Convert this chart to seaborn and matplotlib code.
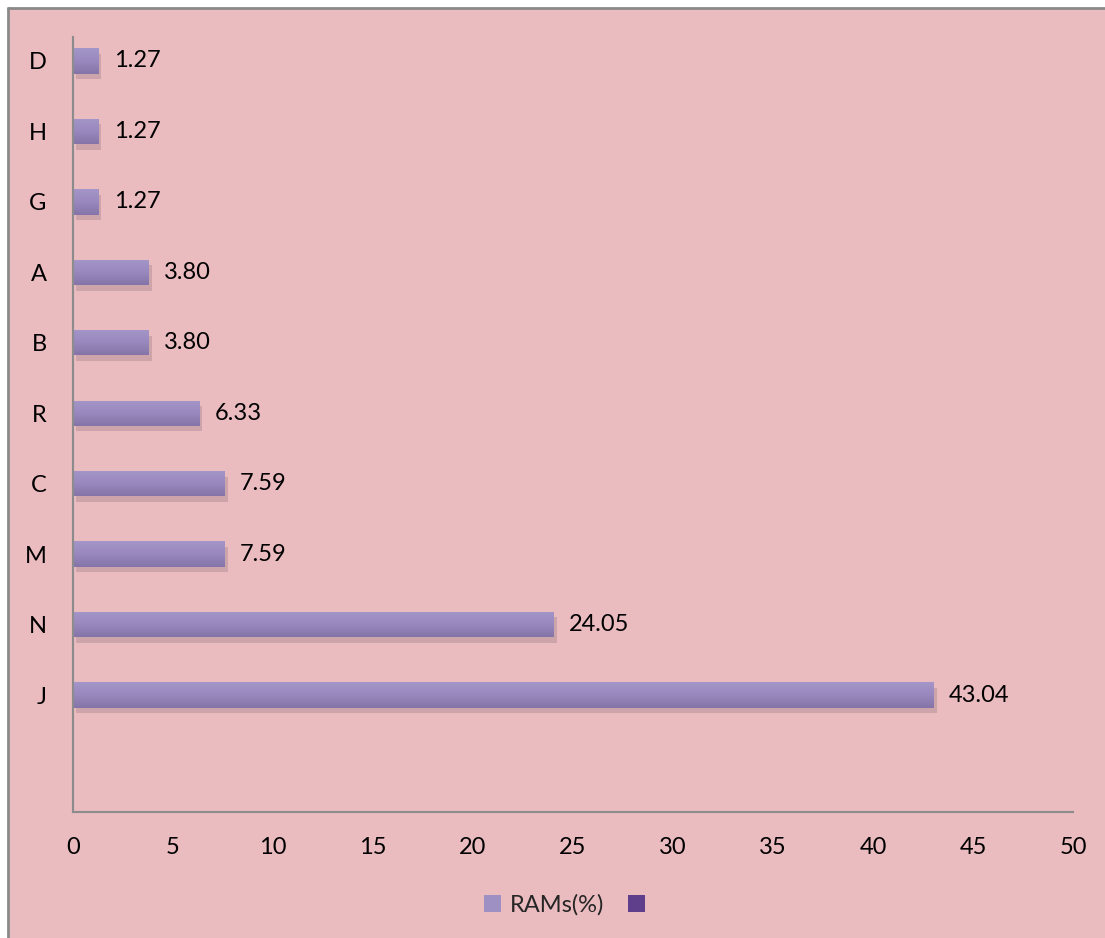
import numpy as np
import pandas as pd
import matplotlib
matplotlib.use("Agg")
import matplotlib.pyplot as plt
from matplotlib.patches import Rectangle, Patch
from matplotlib import patheffects as pe
from matplotlib.colors import LinearSegmentedColormap
import seaborn as sns

# Data
categories = ["D", "H", "G", "A", "B", "R", "C", "M", "N", "J"]
rams_pct = [1.27, 1.27, 1.27, 3.80, 3.80, 6.33, 7.59, 7.59, 24.05, 43.04]
x_ticks = [0, 5, 10, 15, 20, 25, 30, 35, 40, 45, 50]
series_name = "RAMs(%)"

df = pd.DataFrame({"cat": categories, "val": rams_pct})

sns.set_theme(style="white")
plt.rcParams["font.family"] = ["Lato", "DejaVu Sans"]
FS = 17

W, H = 1105, 938
fig = plt.figure(figsize=(W / 100, H / 100), dpi=100, facecolor="white")

# Pink chart area with grey border on top and left
bg = Rectangle((8 / W, 0), 1 - 8 / W, 1 - 8 / H, transform=fig.transFigure,
               facecolor="#eabbbf", edgecolor="none", zorder=-10)
fig.patches.append(bg)
fig.add_artist(plt.Line2D([8 / W, 1], [1 - 8 / H, 1 - 8 / H], transform=fig.transFigure,
                          color="#8a8a8a", lw=2, zorder=-5))
fig.add_artist(plt.Line2D([8 / W, 8 / W], [0, 1 - 8 / H], transform=fig.transFigure,
                          color="#8a8a8a", lw=2, zorder=-5))

ax_l, ax_r, ax_b, ax_t = 73, 1073, 812, 37
ax = fig.add_axes([ax_l / W, (H - ax_b) / H, (ax_r - ax_l) / W, (ax_b - ax_t) / H])
ax.set_facecolor("none")

sns.barplot(data=df, x="val", y="cat", order=categories, orient="h",
            color="#9b8cc0", width=0.36, saturation=1, linewidth=0,
            ax=ax, zorder=3)

# Vertical gradient and soft shadow on each bar
grad_cmap = LinearSegmentedColormap.from_list("bar", ["#a596ca", "#9888bd", "#8474a8"])
grad = np.linspace(0, 1, 64).reshape(-1, 1)
for p in list(ax.patches):
    p.set_edgecolor("none")
    p.set_path_effects([pe.SimplePatchShadow(offset=(2, -4), shadow_rgbFace="#8c6f78", alpha=0.3),
                        pe.Normal()])
    x0, y0 = p.get_x(), p.get_y()
    w, h = p.get_width(), p.get_height()
    im = ax.imshow(grad, cmap=grad_cmap, aspect="auto", interpolation="bilinear",
                   extent=(x0, x0 + w, y0 + h, y0), origin="upper", zorder=4)
    im.set_clip_path(p)

ax.set_xlim(0, 50)
ax.set_ylim(10.66, -0.34)
ax.set_xticks(x_ticks)
ax.set_xticklabels([str(t) for t in x_ticks])
ax.set_xlabel("")
ax.set_ylabel("")

for s in ["top", "right"]:
    ax.spines[s].set_visible(False)
for s in ["left", "bottom"]:
    ax.spines[s].set_color("#8c8c8c")
    ax.spines[s].set_linewidth(1.5)
    ax.spines[s].set_zorder(6)

ax.tick_params(axis="x", length=0, pad=18, labelsize=FS, labelcolor="black")
ax.tick_params(axis="y", length=0, pad=19, labelsize=FS, labelcolor="black")

# Value labels
for i, v in enumerate(rams_pct):
    ax.annotate(f"{v:.2f}", xy=(v, i), xytext=(11, 0), textcoords="offset points",
                va="center", ha="left", fontsize=FS, color="black", zorder=5)

# Legend: the named series and an empty second series
handles = [Patch(facecolor="#9f90c4", edgecolor="none", label=series_name),
           Patch(facecolor="#5f3f8c", edgecolor="none", label=" ")]
fig.legend(handles=handles, loc="center", bbox_to_anchor=(572 / W, (H - 905) / H),
           ncol=2, frameon=False, fontsize=FS, handlelength=0.7, handleheight=0.7,
           handletextpad=0.4, columnspacing=1.0)

fig.savefig("out.png", dpi=100, facecolor="white")
